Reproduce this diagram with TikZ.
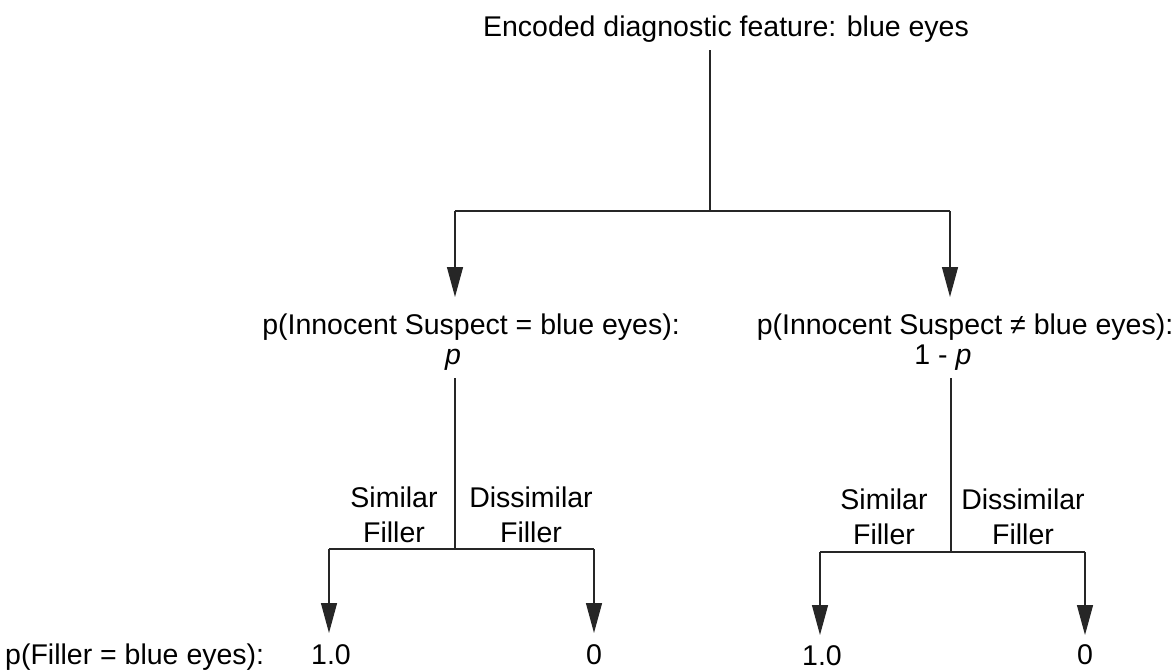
\documentclass[tikz,border=0pt]{standalone}
\usepackage{fontspec}
\setmainfont{Liberation Sans}
\usetikzlibrary{arrows.meta}
\tikzset{
  lbl/.style={inner sep=0pt, anchor=base, font=\fontsize{28.5}{35}\selectfont},
  twoline/.style={inner sep=0pt, anchor=base, align=center, font=\fontsize{28.5}{35}\selectfont},
  conn/.style={line width=1.3pt, black!85},
  arr/.style={conn, -{Triangle[length=30pt,width=16pt]}},
}
\begin{document}
\begin{tikzpicture}[x=1pt,y=-1pt]
\useasboundingbox (0,0) rectangle (1176,670);
% texts
\node[lbl] (title) at (726,36) {Encoded diagnostic feature: blue eyes};
\node[lbl] (lab1) at (471,334) {p(Innocent Suspect = blue eyes):};
\node[lbl] (p1) at (453,364) {\textit{p}};
\node[lbl] (lab2) at (965,334) {p(Innocent Suspect ≠ blue eyes):};
\node[lbl] (p2) at (943,364) {1 - \textit{p}};
\node[twoline] (sim1) at (394,542) {Similar\\Filler};
\node[twoline] (dis1) at (531,542) {Dissimilar\\Filler};
\node[twoline] (sim2) at (884,544) {Similar\\Filler};
\node[twoline] (dis2) at (1023,544) {Dissimilar\\Filler};
\node[lbl, anchor=base west] (fill) at (5,664) {p(Filler = blue eyes):};
\node[lbl] (v1) at (331,664) {1.0};
\node[lbl] (v2) at (594,664) {0};
\node[lbl] (v3) at (822,665) {1.0};
\node[lbl] (v4) at (1085,664) {0};
% junction coordinates
\coordinate (t0) at (710,50);
\coordinate (j0) at (710,211);
\coordinate (hl) at (455,211);
\coordinate (hr) at (950,211);
\coordinate (a1) at (455,297);
\coordinate (a2) at (950,297);
\coordinate (l0) at (455,378);
\coordinate (l1) at (455,549);
\coordinate (ll) at (329,549);
\coordinate (lr) at (594,549);
\coordinate (la) at (329,633);
\coordinate (lb) at (594,633);
\coordinate (r0) at (951,378);
\coordinate (r1) at (951,552);
\coordinate (rl) at (820,552);
\coordinate (rr) at (1085,552);
\coordinate (ra) at (820,635);
\coordinate (rb) at (1085,635);
% connectors
\draw[conn] (t0) -- (j0);
\draw[conn] (hl) -- (hr);
\draw[arr] (hl) -- (a1);
\draw[arr] (hr) -- (a2);
\draw[conn] (l0) -- (l1);
\draw[conn] (ll) -- (lr);
\draw[arr] (ll) -- (la);
\draw[arr] (lr) -- (lb);
\draw[conn] (r0) -- (r1);
\draw[conn] (rl) -- (rr);
\draw[arr] (rl) -- (ra);
\draw[arr] (rr) -- (rb);
\end{tikzpicture}
\end{document}
